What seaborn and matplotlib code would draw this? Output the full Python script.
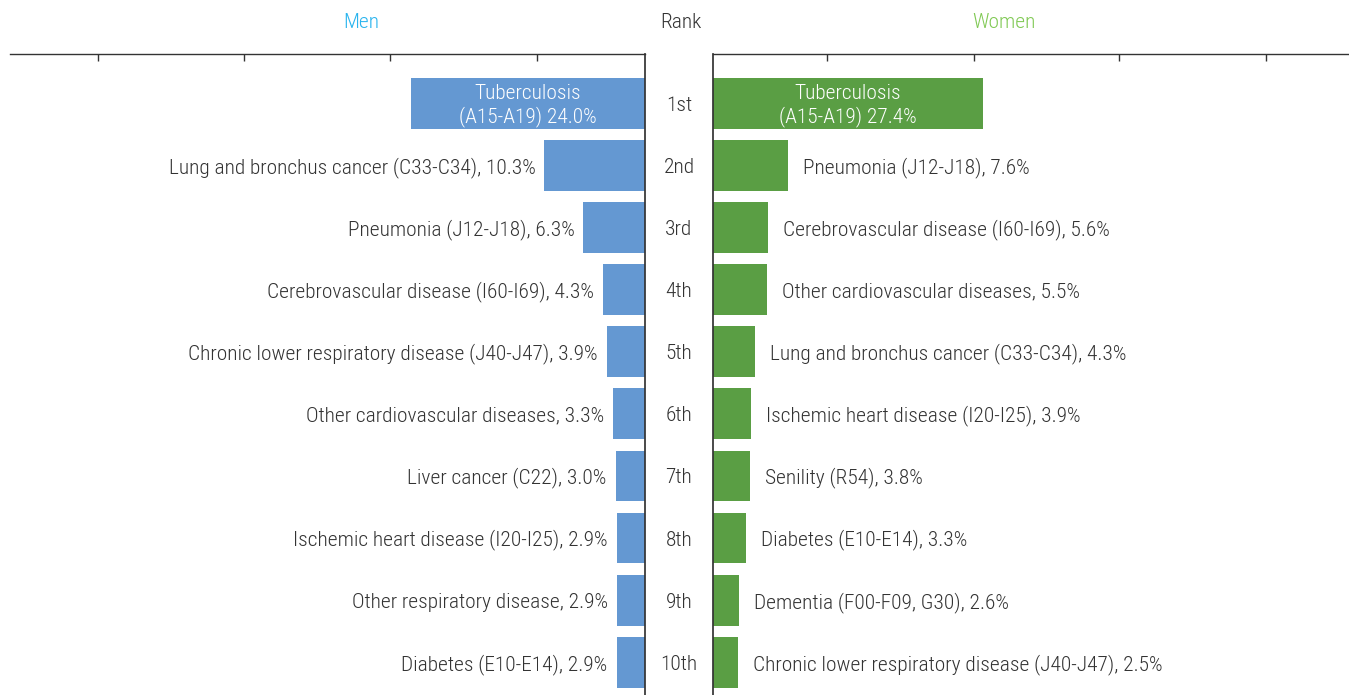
import matplotlib
matplotlib.use("Agg")
import matplotlib.pyplot as plt
import seaborn as sns
import pandas as pd
from matplotlib import font_manager
from matplotlib.textpath import TextPath

# -------------------------------
# Data
# -------------------------------
ranks = ["1st", "2nd", "3rd", "4th", "5th", "6th", "7th", "8th", "9th", "10th"]

men_causes = [
    "Tuberculosis\n(A15-A19)",
    "Lung and bronchus cancer (C33-C34)",
    "Pneumonia (J12-J18)",
    "Cerebrovascular disease (I60-I69)",
    "Chronic lower respiratory disease (J40-J47)",
    "Other cardiovascular diseases",
    "Liver cancer (C22)",
    "Ischemic heart disease (I20-I25)",
    "Other respiratory disease",
    "Diabetes (E10-E14)",
]
men_pct = [24.0, 10.3, 6.3, 4.3, 3.9, 3.3, 3.0, 2.9, 2.9, 2.9]

women_causes = [
    "Tuberculosis\n(A15-A19)",
    "Pneumonia (J12-J18)",
    "Cerebrovascular disease (I60-I69)",
    "Other cardiovascular diseases",
    "Lung and bronchus cancer (C33-C34)",
    "Ischemic heart disease (I20-I25)",
    "Senility (R54)",
    "Diabetes (E10-E14)",
    "Dementia (F00-F09, G30)",
    "Chronic lower respiratory disease (J40-J47)",
]
women_pct = [27.4, 7.6, 5.6, 5.5, 4.3, 3.9, 3.8, 3.3, 2.6, 2.5]

men_df = pd.DataFrame({"rank": ranks, "cause": men_causes, "pct": men_pct})
women_df = pd.DataFrame({"rank": ranks, "cause": women_causes, "pct": women_pct})

MEN_BAR = "#6498d2"
WOMEN_BAR = "#5a9e44"
MEN_HEAD = "#2ab4ee"
WOMEN_HEAD = "#80c954"
TXT = "#333333"

sns.set_theme(style="white")

# pick a narrow, light face if one is installed
font_path = None
for key in ["RobotoCondensed-Light.", "RobotoCondensed-Regular", "RobotoCondensed",
            "LiberationSansNarrow-Regular", "DejaVuSansCondensed.ttf"]:
    hits = [f.fname for f in font_manager.fontManager.ttflist if key in f.fname]
    if hits:
        font_path = sorted(hits)[0]
        break
fp = font_manager.FontProperties(fname=font_path) if font_path else font_manager.FontProperties(family="DejaVu Sans")

# fit the font size so the long left label is about as wide as in the reference
probe = TextPath((0, 0), "Lung and bronchus cancer (C33-C34), 10.3%", size=10, prop=fp)
w10 = probe.get_extents().width
FS = 10 * 365 / (w10 * 100 / 72)

fig = plt.figure(figsize=(13.49, 6.95), dpi=100)
ax_m = fig.add_axes([10 / 1349, 0.0, 635 / 1349, 1 - 54 / 695])
ax_w = fig.add_axes([713 / 1349, 0.0, 636 / 1349, 1 - 54 / 695])

sns.barplot(data=men_df, x="pct", y="rank", color=MEN_BAR, width=0.82,
            saturation=1, linewidth=0, ax=ax_m, orient="h")
sns.barplot(data=women_df, x="pct", y="rank", color=WOMEN_BAR, width=0.82,
            saturation=1, linewidth=0, ax=ax_w, orient="h")

ax_m.set_xlim(65, 0)
ax_w.set_xlim(0, 64.5)
ax_m.set_xticks([11.1, 26.15, 41.0, 56.0])
ax_w.set_xticks([11.56, 26.47, 41.17, 56.08])

for ax in (ax_m, ax_w):
    ax.set_ylim(9.53, -0.8)
    ax.set_xlabel("")
    ax.set_ylabel("")
    ax.set_yticks([])
    ax.xaxis.tick_top()
    ax.tick_params(axis="x", direction="in", length=5, width=1, color=TXT,
                   labeltop=False, top=True, bottom=False)
    for s in ("left", "right", "top", "bottom"):
        ax.spines[s].set_visible(False)
    ax.spines["top"].set_visible(True)
    ax.spines["top"].set_color(TXT)
    ax.spines["top"].set_linewidth(1)

ax_m.spines["right"].set_visible(True)
ax_m.spines["right"].set_color(TXT)
ax_w.spines["left"].set_visible(True)
ax_w.spines["left"].set_color(TXT)

DY = -2  # nudge labels a touch lower

for i, (c, v) in enumerate(zip(men_causes, men_pct)):
    if i == 0:
        ax_m.annotate(f"{c} {v:.1f}%", (v / 2, i), xytext=(0, DY),
                      textcoords="offset pixels", ha="center", va="center",
                      color="white", fontproperties=fp, fontsize=FS, linespacing=1.15)
    else:
        ax_m.annotate(f"{c}, {v:.1f}%", (v, i), xytext=(-9, DY),
                      textcoords="offset pixels", ha="right", va="center",
                      color=TXT, fontproperties=fp, fontsize=FS)

for i, (c, v) in enumerate(zip(women_causes, women_pct)):
    if i == 0:
        ax_w.annotate(f"{c} {v:.1f}%", (v / 2, i), xytext=(0, DY),
                      textcoords="offset pixels", ha="center", va="center",
                      color="white", fontproperties=fp, fontsize=FS, linespacing=1.15)
    else:
        ax_w.annotate(f"{c}, {v:.1f}%", (v, i), xytext=(15, DY),
                      textcoords="offset pixels", ha="left", va="center",
                      color=TXT, fontproperties=fp, fontsize=FS)

for i, r in enumerate(ranks):
    ax_m.annotate(r, (0, i), xytext=(34, DY), textcoords="offset pixels",
                  ha="center", va="center", color=TXT, fontproperties=fp,
                  fontsize=FS, annotation_clip=False)

fig.text(361 / 1349, 1 - 22 / 695, "Men", ha="center", va="center",
         color=MEN_HEAD, fontproperties=fp, fontsize=FS)
fig.text(681 / 1349, 1 - 22 / 695, "Rank", ha="center", va="center",
         color=TXT, fontproperties=fp, fontsize=FS)
fig.text(1004 / 1349, 1 - 22 / 695, "Women", ha="center", va="center",
         color=WOMEN_HEAD, fontproperties=fp, fontsize=FS)

fig.savefig("out.png", dpi=100)
